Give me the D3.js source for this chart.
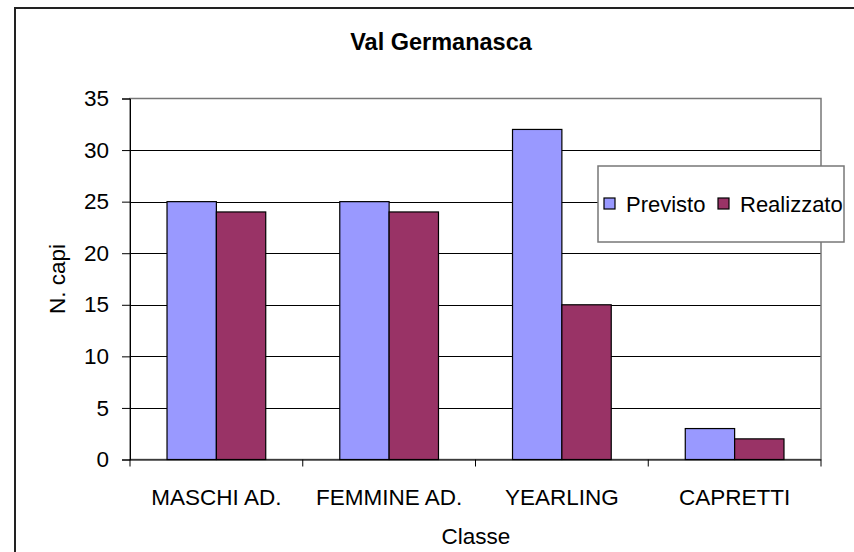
<!DOCTYPE html>
<html>
<head>
<meta charset="utf-8">
<script src="https://cdn.jsdelivr.net/npm/d3@7"></script>
<style>
  body { margin: 0; background: #fff; }
  text { font-family: "Liberation Sans", Arial, sans-serif; fill: #000; }
</style>
</head>
<body>
<svg id="chart" width="854" height="552"></svg>
<script>
const categories= ['MASCHI AD.', 'FEMMINE AD.', 'YEARLING', 'CAPRETTI'];
const seriesNames= ['Previsto', 'Realizzato'];
const previsto= [25, 25, 32, 3];
const realizzato= [24, 24, 15, 2];
const yTicks= [0, 5, 10, 15, 20, 25, 30, 35];
const colors= ['#9999ff', '#993366'];

const svg= d3.select('#chart');
const m= {left: 130, top: 98.5, right: 821, bottom: 459.5};
const fs= '22.5px';

// outer frame
svg.append('rect')
  .attr('x', 15).attr('y', 8).attr('width', 860).attr('height', 560)
  .attr('fill', 'none').attr('stroke', '#222').attr('stroke-width', 2);

svg.append('text')
  .attr('x', 441).attr('y', 50)
  .attr('text-anchor', 'middle')
  .style('font-size', '23.5px').style('font-weight', 'bold')
  .text('Val Germanasca');

const x= d3.scaleBand().domain(categories).range([m.left, m.right]);
const y= d3.scaleLinear().domain([0, 35]).range([m.bottom, m.top]);
const bw= x.bandwidth()/3.5;

// gridlines
svg.append('g').selectAll('line')
  .data(yTicks.filter(d => d > 0 && d < 35))
  .join('line')
  .attr('x1', m.left).attr('x2', m.right)
  .attr('y1', d => Math.round(y(d))+0.5).attr('y2', d => Math.round(y(d))+0.5)
  .attr('stroke', '#000').attr('stroke-width', 1);

// plot border
svg.append('rect')
  .attr('x', m.left).attr('y', m.top)
  .attr('width', m.right-m.left).attr('height', m.bottom-m.top)
  .attr('fill', 'none').attr('stroke', '#777').attr('stroke-width', 1.5);

// bars
const data= categories.map((c, i) => ({c, vals: [previsto[i], realizzato[i]]}));
svg.append('g').selectAll('g')
  .data(data)
  .join('g')
  .selectAll('rect')
  .data(d => d.vals.map((v, j) => ({c: d.c, v, j})))
  .join('rect')
  .attr('x', d => x(d.c)+bw*0.75+d.j*bw)
  .attr('y', d => y(d.v))
  .attr('width', bw)
  .attr('height', d => y(0)-y(d.v))
  .attr('fill', d => colors[d.j])
  .attr('stroke', '#000').attr('stroke-width', 1.2);

// y axis
const yAxis= svg.append('g')
  .attr('transform', `translate(${m.left},0)`)
  .call(d3.axisLeft(y).tickValues(yTicks).tickSize(8).tickPadding(13));
yAxis.select('.domain').attr('stroke', '#000');
yAxis.selectAll('text').style('font-size', fs);

// x axis
const xAxis= svg.append('g')
  .attr('transform', `translate(0,${m.bottom})`)
  .call(d3.axisBottom(x).tickSize(0));
xAxis.select('.domain').attr('stroke', '#000').attr('d', `M${m.left},0.5H${m.right}`);
xAxis.selectAll('text').style('font-size', fs).attr('dy', 0).attr('y', 45);
svg.append('g').selectAll('line')
  .data(d3.range(categories.length+1))
  .join('line')
  .attr('x1', i => m.left+i*x.step()).attr('x2', i => m.left+i*x.step())
  .attr('y1', m.bottom).attr('y2', m.bottom+7)
  .attr('stroke', '#000');

svg.append('text')
  .attr('x', 476).attr('y', 544)
  .attr('text-anchor', 'middle')
  .style('font-size', fs)
  .text('Classe');

svg.append('text')
  .attr('transform', 'translate(65,279) rotate(-90)')
  .attr('text-anchor', 'middle')
  .style('font-size', fs)
  .text('N. capi');

// legend
const lg= svg.append('g');
lg.append('rect')
  .attr('x', 598).attr('y', 166).attr('width', 246).attr('height', 76)
  .attr('fill', '#fff').attr('stroke', '#777').attr('stroke-width', 1.5);
const items= [{x: 604, tx: 626}, {x: 718, tx: 740}];
seriesNames.forEach((s, i) => {
  lg.append('rect')
    .attr('x', items[i].x).attr('y', 198).attr('width', 11).attr('height', 11)
    .attr('fill', colors[i]).attr('stroke', '#000').attr('stroke-width', 1.2);
  lg.append('text')
    .attr('x', items[i].tx).attr('y', 212)
    .style('font-size', '22px')
    .text(s);
});
</script>
</body>
</html>
